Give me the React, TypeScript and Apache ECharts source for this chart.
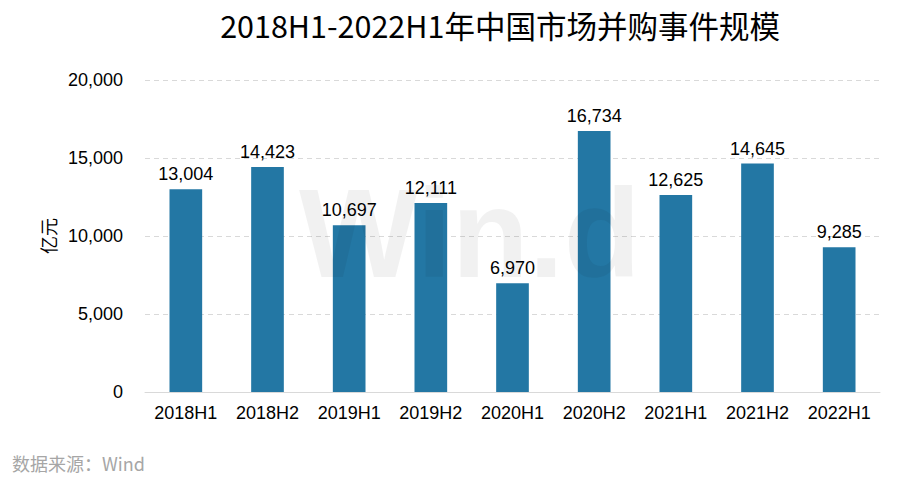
import React, { useEffect, useRef } from "react";
import * as echarts from "echarts";

const categories = ["2018H1", "2018H2", "2019H1", "2019H2", "2020H1", "2020H2", "2021H1", "2021H2", "2022H1"];
const values = [13004, 14423, 10697, 12111, 6970, 16734, 12625, 14645, 9285];
const yTicks = { min: 0, max: 20000, interval: 5000 };

export default function App() {
  const ref = useRef<HTMLDivElement>(null);
  useEffect(() => {
    const chart = echarts.init(ref.current!, null, { renderer: "svg" });
    chart.setOption({
      animation: false,
      backgroundColor: "#ffffff",
      title: {
        text: "2018H1-2022H1年中国市场并购事件规模",
        left: 495,
        textAlign: "center",
        top: 5,
        textStyle: { fontFamily: "Noto Sans CJK SC", fontSize: 30.5, fontWeight: "normal", color: "#000" },
      },
      graphic: [
        {
          type: "text",
          x: 299,
          y: 233,
          z: 100,
          silent: true,
          style: {
            text: "Win.d",
            fontFamily: "Liberation Sans",
            fontWeight: "bold",
            fontSize: 126,
            fill: "rgba(0,0,0,0.055)",
            verticalAlign: "middle",
          },
        },
        {
          type: "text",
          left: 12,
          top: 454,
          style: { text: "数据来源：Wind", fontFamily: "Noto Sans CJK SC", fontSize: 18, fill: "#a6a6a6" },
        },
      ],
      grid: { left: 145, right: 20, top: 80, bottom: 94, containLabel: false },
      xAxis: {
        type: "category",
        data: categories,
        axisLine: { lineStyle: { color: "#d9d9d9" } },
        axisTick: { show: false },
        axisLabel: { interval: 0, color: "#000", fontFamily: "Liberation Sans", fontSize: 18, margin: 12 },
      },
      yAxis: {
        type: "value",
        min: yTicks.min,
        max: yTicks.max,
        interval: yTicks.interval,
        name: "亿元",
        nameLocation: "middle",
        nameGap: 88,
        nameRotate: 90,
        nameTextStyle: { color: "#000", fontFamily: "Noto Sans CJK SC", fontSize: 18 },
        axisLine: { show: false },
        axisTick: { show: false },
        splitLine: { lineStyle: { color: "#d9d9d9", type: [5, 4] } },
        axisLabel: {
          color: "#000",
          fontFamily: "Liberation Sans",
          fontSize: 18,
          margin: 22,
          formatter: (v: number) => v.toLocaleString("en-US"),
        },
      },
      series: [
        {
          type: "bar",
          data: values,
          barWidth: "40%",
          itemStyle: { color: "#2377a4" },
          label: {
            show: true,
            position: "top",
            distance: 6,
            color: "#000",
            fontFamily: "Liberation Sans",
            fontSize: 18,
            formatter: (p: any) => Number(p.value).toLocaleString("en-US"),
          },
        },
      ],
    });
    return () => chart.dispose();
  }, []);
  return <div ref={ref} style={{ width: 900, height: 486, margin: -8 }} />;
}
